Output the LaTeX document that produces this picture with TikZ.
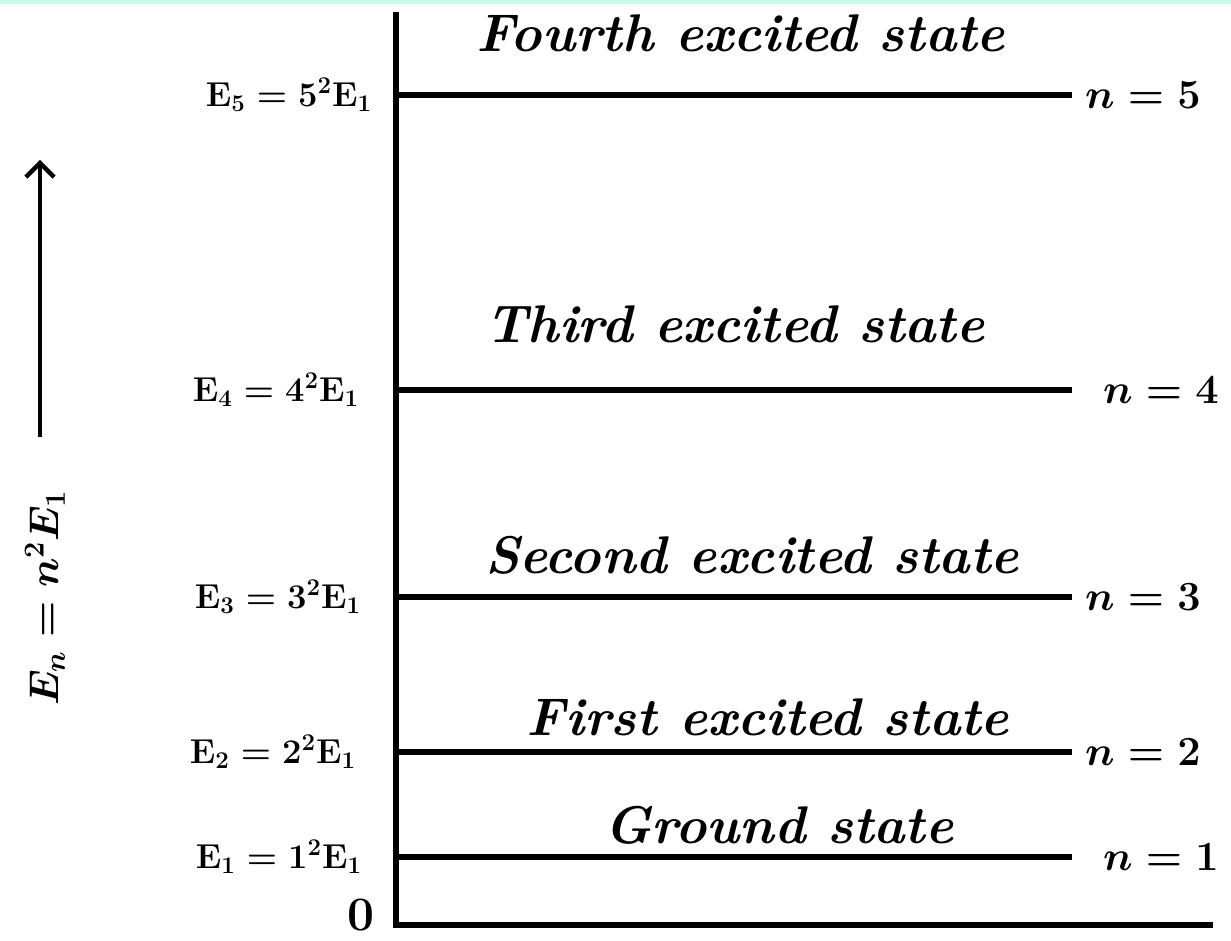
\documentclass[tikz,border=0pt]{standalone}
\usepackage{amsmath}
\usetikzlibrary{arrows.meta,positioning}
\definecolor{topMint}{RGB}{198,252,226}

\begin{document}
\begin{tikzpicture}[x=0.5pt,y=-0.5pt,
    levelLine/.style={line width=2.6pt,black},
    stateLbl/.style={font=\fontsize{26.5}{30}\selectfont\bfseries\itshape,anchor=base},
    energyLbl/.style={font=\fontsize{16.5}{20}\selectfont\boldmath},
    quantLbl/.style={font=\fontsize{21.5}{25}\selectfont\boldmath,anchor=west}]

  \useasboundingbox (0,0) rectangle (1231,941);
  \fill[topMint] (0,0) rectangle (1231,4);

  % ════════ eixos ════════
  \coordinate (axTop) at (396,12);
  \coordinate (axOrg) at (396,925);
  \coordinate (axEnd) at (1213,925);
  \draw[levelLine] (axTop) -- (axOrg) -- (axEnd);
  \node[font=\fontsize{24}{28}\selectfont\bfseries] (zero) at (361,915) {0};

  % ════════ niveis de energia ════════
  \foreach \n/\y/\xl/\xn/\sx/\sy/\st in {
      5/95/289/1078/741/52/Fourth excited state,
      4/390/276/1096/735/343/Third excited state,
      3/597/278/1078/752/573/Second excited state,
      2/752/273/1078/768/735/First excited state,
      1/857/279/1096/779/843/Ground state}{
    \coordinate (lvlL\n) at (396,\y);
    \coordinate (lvlR\n) at (1072,\y);
    \draw[levelLine] (lvlL\n) -- (lvlR\n);
    \node[stateLbl] (state\n) at (\sx,\sy) {\st};
    \node[energyLbl] (energy\n) at (\xl,\y) {$\mathbf{E}_{\n} = \n^2\mathbf{E}_1$};
    \node[quantLbl] (quant\n) at (\xn,\y) {$n = \n$};
  }

  % ════════ seta de energia ════════
  \coordinate (arrBot) at (40,437);
  \coordinate (arrTop) at (40,160);
  \draw[-{Straight Barb[length=7pt,width=14pt]},line width=2.2pt] (arrBot) -- (arrTop);
  \node[rotate=90,font=\fontsize{21}{25}\selectfont\boldmath] (enLaw) at (45,598)
    {$E_n = n^2E_1$};

\end{tikzpicture}
\end{document}
